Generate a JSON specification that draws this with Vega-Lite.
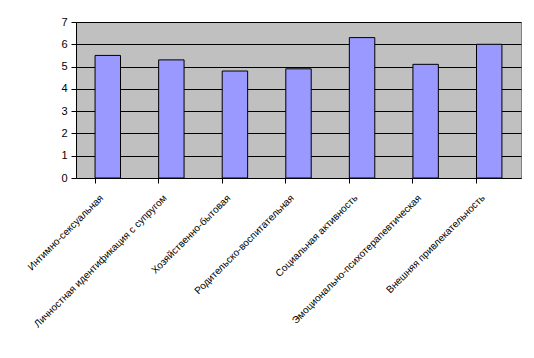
{
  "$schema": "https://vega.github.io/schema/vega-lite/v6.json",
  "width": 445,
  "height": 156,
  "autosize": "none",
  "padding": {"left": 76, "top": 22, "right": 13, "bottom": 180},
  "background": "white",
  "config": {
    "font": "Liberation Sans",
    "view": {"fill": "#c0c0c0", "stroke": "#808080", "strokeWidth": 1}
  },
  "data": {
    "values": [
      {"k": "Интимно-сексуальная", "v": 5.5},
      {"k": "Личностная идентификация с супругом", "v": 5.3},
      {"k": "Хозяйственно-бытовая", "v": 4.8},
      {"k": "Родительско-воспитательная", "v": 4.9},
      {"k": "Социальная активность", "v": 6.3},
      {"k": "Эмоционально-психотерапевтическая", "v": 5.1},
      {"k": "Внешняя привлекательность", "v": 6.0}
    ]
  },
  "mark": {"type": "bar", "fill": "#9999ff", "stroke": "black", "strokeWidth": 1},
  "encoding": {
    "x": {
      "field": "k", "type": "nominal", "sort": null,
      "scale": {"paddingInner": 0.6, "paddingOuter": 0.3},
      "axis": {
        "title": null, "labelAngle": -45, "labelAlign": "right", "labelBaseline": "middle",
        "labelFontSize": 10, "labelColor": "black", "labelPadding": 13, "labelOffset": -6,
        "domainColor": "black", "tickColor": "black", "tickSize": 5, "bandPosition": 0,
        "grid": false, "labelLimit": 0
      }
    },
    "y": {
      "field": "v", "type": "quantitative",
      "scale": {"domain": [0, 7], "nice": false},
      "axis": {
        "title": null, "values": [0,1,2,3,4,5,6,7], "labelFontSize": 11, "labelColor": "black",
        "domainColor": "black", "tickColor": "black", "tickSize": 5, "labelPadding": 4,
        "gridColor": "black", "gridOpacity": 1
      }
    }
  }
}
